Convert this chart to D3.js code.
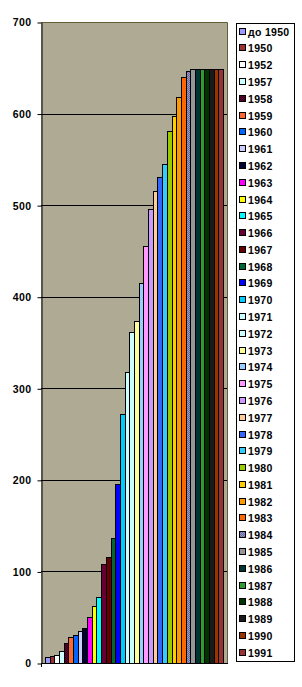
<!DOCTYPE html>
<html>
<head>
<meta charset="utf-8">
<script src="https://cdn.jsdelivr.net/npm/d3@7"></script>
<style>
  body { margin: 0; background: #fff; }
  svg { display: block; font-family: "Liberation Sans", Arial, sans-serif; }
</style>
</head>
<body>
<div id="chart"></div>
<script>
// Data
const categories = ["до 1950", "1950", "1952", "1957", "1958", "1959", "1960", "1961", "1962", "1963",
  "1964", "1965", "1966", "1967", "1968", "1969", "1970", "1971", "1972", "1973",
  "1974", "1975", "1976", "1977", "1978", "1979", "1980", "1981", "1982", "1983",
  "1984", "1985", "1986", "1987", "1988", "1989", "1990", "1991"];

const values = [7, 8, 9, 13, 22, 28, 31, 35, 38, 50,
  62, 72, 108, 116, 137, 196, 272, 318, 361, 374,
  415, 455, 496, 515, 531, 545, 581, 597, 618, 640,
  647, 649, 649, 649, 649, 649, 649, 649];

const seriesColors = ["#9999FF", "#993333", "#FFFFFF", "#CCFFFF", "url(#dots1958)", "#FF6633", "#0066FF", "#CCCCFF", "#000033", "#FF00FF",
  "#FFFF00", "#00FFFF", "#660033", "#660000", "#006633", "#0000FF", "#00CCFF", "#CCFFFF", "#CCFFFF", "#FFFF99",
  "#99CCFF", "#FF99FF", "#CC99FF", "#FFCC99", "#3366FF", "#33CCFF", "#99CC00", "#FFCC00", "#FF9900", "#FF6600",
  "url(#dots1984)", "#969696", "#003333", "#339933", "#003300", "#1A1A1A", "#993300", "#993333"];

const yTicks = [0, 100, 200, 300, 400, 500, 600, 700];

(function () {
  const W = 302, H = 687;
  const plot = { left: 41, right: 227, top: 22, bottom: 663 };

  const svg = d3.select("#chart").append("svg")
    .attr("width", W)
    .attr("height", H);

  // fill patterns used by two of the series
  const defs = svg.append("defs");
  [["dots1958", "#660033", "#33001A"], ["dots1984", "#666699", "#9999CC"]].forEach(([id, base, dot]) => {
    const p = defs.append("pattern")
      .attr("id", id)
      .attr("patternUnits", "userSpaceOnUse")
      .attr("width", 2)
      .attr("height", 2);
    p.append("rect").attr("width", 2).attr("height", 2).attr("fill", base);
    p.append("rect").attr("width", 1).attr("height", 1).attr("fill", dot);
    p.append("rect").attr("x", 1).attr("y", 1).attr("width", 1).attr("height", 1).attr("fill", dot);
  });

  const x = d3.scaleBand()
    .domain(categories)
    .range([plot.left, plot.right])
    .paddingInner(0)
    .paddingOuter(0.83);

  const y = d3.scaleLinear()
    .domain([0, 700])
    .range([plot.bottom, plot.top]);

  // plot background
  svg.append("rect")
    .attr("x", plot.left)
    .attr("y", plot.top)
    .attr("width", plot.right - plot.left)
    .attr("height", plot.bottom - plot.top)
    .attr("fill", "#AFAA93");

  // gridlines
  svg.append("g")
    .selectAll("line")
    .data(yTicks.filter((t) => t > 0 && t < 700))
    .join("line")
    .attr("x1", plot.left)
    .attr("x2", plot.right)
    .attr("y1", (d) => Math.round(y(d)) + 0.5)
    .attr("y2", (d) => Math.round(y(d)) + 0.5)
    .attr("stroke", "#000")
    .attr("stroke-width", 1);

  // bars
  const bars = categories.map((c, i) => {
    const x0 = Math.round(x(c));
    const x1 = Math.round(x(c) + x.bandwidth());
    return { c, v: values[i], color: seriesColors[i], x0, x1 };
  });

  svg.append("g")
    .selectAll("rect")
    .data(bars)
    .join("rect")
    .attr("x", (d) => d.x0 + 0.5)
    .attr("width", (d) => d.x1 - d.x0)
    .attr("y", (d) => Math.round(y(d.v)) + 0.5)
    .attr("height", (d) => Math.round(y(0)) - Math.round(y(d.v)))
    .attr("fill", (d) => d.color)
    .attr("stroke", "#000")
    .attr("stroke-width", 1);

  // plot border (top and right)
  svg.append("path")
    .attr("d", `M${plot.left},${plot.top + 0.5}H${plot.right + 0.5}V${plot.bottom}`)
    .attr("fill", "none")
    .attr("stroke", "#5F5F33")
    .attr("stroke-width", 1);

  // y axis
  const yAxis = svg.append("g")
    .attr("transform", `translate(${plot.left + 0.5},0.5)`)
    .call(d3.axisLeft(y).tickValues(yTicks).tickSize(4).tickPadding(6).tickSizeOuter(0));
  yAxis.select(".domain").attr("stroke", "#000");
  yAxis.selectAll(".tick line").attr("stroke", "#000");
  yAxis.selectAll(".tick text")
    .attr("fill", "#000")
    .attr("font-family", "\"Liberation Sans\", Arial, sans-serif")
    .attr("font-size", "10.5px")
    .attr("font-weight", "bold")
    .attr("letter-spacing", "0.4px");

  // x axis (category axis without labels)
  svg.append("line")
    .attr("x1", plot.left)
    .attr("x2", plot.right + 1)
    .attr("y1", plot.bottom + 0.5)
    .attr("y2", plot.bottom + 0.5)
    .attr("stroke", "#000");
  svg.append("line")
    .attr("x1", plot.left + 0.5)
    .attr("x2", plot.left + 0.5)
    .attr("y1", plot.bottom)
    .attr("y2", plot.bottom + 4)
    .attr("stroke", "#000");

  // legend
  const legend = svg.append("g");
  legend.append("rect")
    .attr("x", 236.5)
    .attr("y", 23.5)
    .attr("width", 58)
    .attr("height", 638)
    .attr("fill", "#fff")
    .attr("stroke", "#000");

  const rowY = d3.scalePoint()
    .domain(categories)
    .range([31.7, 652.7]);

  const rows = legend.selectAll("g.row")
    .data(bars)
    .join("g")
    .attr("class", "row")
    .attr("transform", (d) => `translate(0,${Math.round(rowY(d.c))})`);

  rows.append("rect")
    .attr("x", 239.5)
    .attr("y", -3.5)
    .attr("width", 6)
    .attr("height", 6)
    .attr("fill", (d) => d.color)
    .attr("stroke", "#000");

  rows.append("text")
    .attr("x", 248)
    .attr("y", 3.5)
    .attr("font-size", "10.5px")
    .attr("font-weight", "bold")
    .attr("letter-spacing", "0.3px")
    .attr("fill", "#000")
    .text((d) => d.c);
})();
</script>
</body>
</html>
